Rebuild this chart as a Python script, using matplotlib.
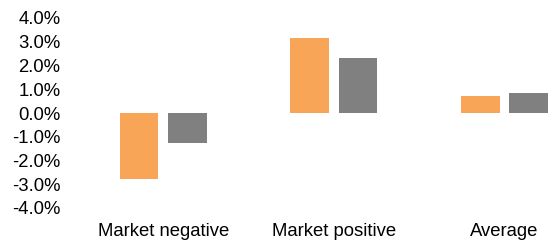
import numpy as np
import matplotlib.pyplot as plt
from matplotlib.ticker import FuncFormatter

# datos
categorias = ['Market negative', 'Market positive', 'Average']
serie_naranja = [-2.76, 3.17, 0.71]
serie_gris = [-1.27, 2.32, 0.85]
yticks = [-4, -3, -2, -1, 0, 1, 2, 3, 4]

plt.rcParams['font.family'] = ['Liberation Sans', 'DejaVu Sans']

fig = plt.figure(figsize=(5.53, 2.43), dpi=100)
ax = fig.add_axes([66/553, 35/243, (550-66)/553, 190/243])

x = np.arange(len(categorias))
ancho = 0.226
desp = 0.142
ax.bar(x - desp, serie_naranja, ancho, color='#F9A557')
ax.bar(x + desp, serie_gris, ancho, color='#808080')

ax.set_xlim((66-163.3)/170.6, (550-163.3)/170.6)
ax.set_ylim(-4, 4)
ax.set_yticks(yticks)
ax.yaxis.set_major_formatter(FuncFormatter(lambda v, p: '%.1f%%' % v))
ax.set_xticks(x)
ax.set_xticklabels(categorias)
ax.tick_params(length=0, labelsize=13.3)
ax.tick_params(axis='y', pad=4)
ax.tick_params(axis='x', pad=11)
for s in ax.spines.values():
    s.set_visible(False)

fig.savefig('out.png', dpi=100)
